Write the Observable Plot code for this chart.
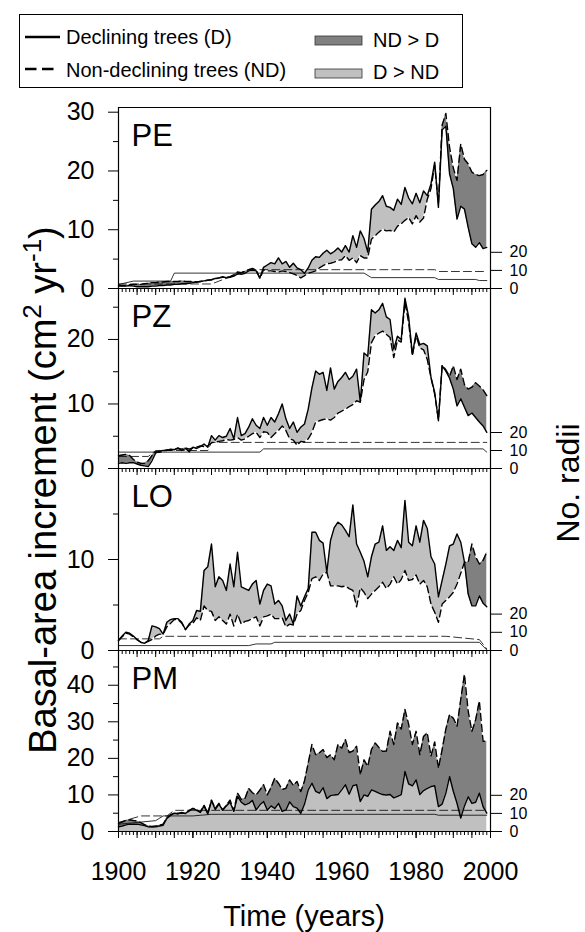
<!DOCTYPE html>
<html><head><meta charset="utf-8">
<script src="https://cdn.jsdelivr.net/npm/d3@7"></script>
<script src="https://cdn.jsdelivr.net/npm/@observablehq/plot@0.6"></script>
<style>
body{margin:0;background:#fff;}
#root{position:relative;width:585px;height:932px;font-family:"Liberation Sans",Arial,Helvetica,sans-serif;overflow:hidden;}
.panel{position:absolute;left:0;}
#overlay{position:absolute;left:0;top:0;}
</style></head><body><div id="root"></div>
<script>
// ---------- data (years 1900..1999) ----------
const years = d3.range(1900, 2000);
const xTickLabels = [1900, 1920, 1940, 1960, 1980, 2000];
const panelNames = ["PE", "PZ", "LO", "PM"];

const PE_D = [0.4,0.4,0.4,0.5,0.4,0.3,0.3,0.3,0.3,0.4,
 0.4,0.5,0.5,0.6,0.6,0.7,0.7,0.8,0.8,0.9,
 1.0,1.1,1.2,1.3,1.4,1.5,1.7,1.8,2.0,1.8,
 1.9,2.1,2.5,2.4,2.6,3.0,3.1,3.0,1.8,3.6,
 4.0,4.4,4.2,5.2,4.2,4.6,3.6,4.3,3.5,3.2,
 2.6,3.5,4.8,5.4,5.3,6.0,6.5,5.9,6.3,6.9,
 6.2,7.3,6.2,9.0,7.0,9.8,8.5,6.2,13.5,14.2,
 14.8,15.8,14.0,13.8,13.3,15.2,14.3,17.2,15.4,14.4,
 16.2,14.6,16.6,15.8,17.8,21.5,13.8,27.0,27.6,19.5,
 17.0,11.8,14.0,13.5,10.4,7.6,7.0,7.8,6.8,7.0];
const PE_ND = [0.5,0.5,0.5,0.6,0.7,0.7,0.7,0.8,0.9,1.0,
 1.0,1.1,1.1,1.2,1.2,1.2,1.2,1.3,1.2,1.2,
 1.2,1.1,1.2,1.3,1.4,1.5,1.6,1.8,1.9,1.9,
 2.0,2.3,2.8,2.7,2.9,3.2,3.4,3.2,1.7,3.2,
 3.0,3.0,2.9,2.8,3.0,2.9,2.7,2.5,2.2,1.8,
 2.2,2.6,2.8,3.0,3.5,3.9,4.2,4.3,4.5,4.8,
 4.9,5.6,4.8,5.2,4.4,5.6,5.2,5.2,8.4,9.0,
 9.6,10.1,9.8,9.9,9.6,10.6,11.0,11.6,12.1,11.0,
 12.4,11.3,12.0,15.2,17.0,21.0,14.5,27.8,29.8,24.0,
 20.5,18.4,24.6,22.0,21.2,19.8,19.4,19.2,19.4,20.1];

const PZ_D = [0.8,0.9,0.8,0.9,0.9,0.7,0.5,0.4,0.3,1.2,
 2.4,2.7,2.8,2.8,3.0,2.9,3.2,2.8,3.1,2.6,
 3.3,3.1,3.4,3.8,3.3,5.1,4.4,5.1,4.8,5.0,
 6.2,4.6,7.9,5.1,5.4,6.4,7.7,6.7,6.2,7.9,
 6.7,7.9,7.2,8.5,10.0,7.7,6.2,7.2,5.6,6.4,
 6.9,9.2,12.5,15.1,14.6,14.9,12.1,15.6,12.3,13.5,
 14.1,14.9,13.8,14.3,15.4,10.3,17.9,17.4,24.6,24.1,
 24.6,25.6,23.5,23.1,18.5,20.5,20.0,26.4,23.5,17.7,
 21.0,19.2,19.4,19.0,14.1,11.8,7.4,15.9,15.1,14.0,
 12.3,9.7,10.8,9.5,8.2,8.6,7.9,7.2,6.6,5.6];
const PZ_ND = [2.0,2.1,2.2,2.0,1.4,1.0,0.8,0.8,1.2,2.0,
 2.6,2.5,2.7,2.9,2.8,3.0,3.1,3.0,3.2,3.0,
 3.2,3.3,3.5,3.4,3.5,4.0,4.1,4.2,4.3,4.5,
 4.4,4.5,4.8,4.4,4.6,5.0,5.4,5.6,4.8,5.7,
 5.6,4.8,5.4,5.9,6.6,5.9,4.6,4.4,3.6,4.2,
 4.1,4.6,5.6,7.2,7.4,7.6,7.7,7.5,7.9,8.6,
 8.9,9.2,9.6,9.9,10.5,10.3,13.8,15.0,19.5,20.6,
 21.0,21.3,20.8,20.3,17.2,19.9,19.6,25.8,22.6,17.5,
 20.6,18.7,18.4,16.9,14.1,11.5,7.6,16.0,15.3,14.3,
 15.9,13.8,15.4,13.0,12.3,12.6,13.3,12.8,12.2,11.3];

const LO_D = [1.1,1.6,2.0,1.9,1.6,1.2,0.9,0.8,1.1,2.7,
 2.6,2.4,1.8,3.1,3.4,3.5,3.5,3.1,2.3,2.9,
 3.3,4.4,4.3,8.8,9.2,11.7,7.0,8.1,7.7,6.6,
 9.5,7.0,10.8,7.0,6.8,6.6,7.3,7.7,5.1,6.6,
 7.3,7.1,5.1,5.5,4.9,3.3,4.0,2.9,6.0,4.9,
 5.9,6.8,13.0,13.0,12.1,11.8,8.6,12.1,13.5,14.1,
 13.8,13.2,12.5,16.0,11.7,10.8,9.8,8.1,10.3,11.7,
 11.9,13.7,11.0,11.4,11.0,12.1,11.3,16.5,11.9,11.5,
 13.7,11.9,14.3,13.4,10.3,9.5,5.9,7.7,9.5,11.5,
 11.7,12.8,11.9,9.7,6.2,4.9,4.9,6.0,5.2,4.8];
const LO_ND = [1.1,1.5,1.9,1.8,1.5,1.2,0.9,0.8,1.0,1.2,
 1.6,1.8,1.8,2.6,3.0,3.4,3.4,3.0,2.3,2.8,
 3.0,3.6,3.3,4.9,4.4,4.3,3.3,3.7,3.3,2.9,
 4.0,2.7,4.0,2.9,3.2,3.3,3.5,3.7,2.7,3.7,
 3.8,4.0,3.5,3.5,3.6,2.6,2.9,2.8,4.0,4.4,
 5.5,6.4,7.9,8.1,7.7,8.4,8.6,7.1,7.1,7.1,
 7.0,7.1,6.8,6.6,4.8,6.9,6.4,5.7,6.2,6.6,
 7.0,7.5,6.8,7.3,8.1,7.3,7.8,8.8,7.7,7.8,
 8.3,7.3,7.7,7.0,5.1,4.2,3.1,5.1,5.5,5.9,
 6.4,7.3,8.5,9.7,9.7,11.7,10.3,9.5,9.9,10.8];

const PM_D = [1.3,1.5,1.8,2.0,2.0,2.0,1.8,1.6,1.3,1.2,
 1.3,1.5,1.7,3.6,4.4,5.0,4.8,5.2,4.9,5.8,
 6.3,5.8,5.2,7.0,4.8,8.4,6.0,7.5,5.8,7.0,
 8.0,5.5,9.6,8.0,7.3,7.7,8.5,5.9,7.3,8.2,
 5.9,7.0,6.3,7.7,5.5,5.9,8.1,6.8,6.4,5.0,
 7.5,11.4,13.2,11.0,10.5,12.0,9.0,9.8,10.0,10.1,
 11.4,12.8,10.2,12.5,12.8,8.2,10.0,9.6,11.4,11.0,
 10.5,10.1,10.0,10.1,9.2,9.6,10.1,16.4,13.0,12.5,
 14.1,10.1,11.2,11.8,12.3,12.5,6.8,7.5,10.5,15.0,
 11.0,7.7,3.7,7.0,9.5,7.7,8.0,10.5,6.8,5.0];
const PM_ND = [2.2,2.6,3.0,3.2,3.0,2.9,2.4,1.9,1.5,1.4,
 1.5,1.7,2.0,3.8,4.6,5.0,5.0,5.0,5.0,5.6,
 6.3,6.0,5.4,7.2,4.9,8.6,6.3,7.7,5.9,7.2,
 8.6,5.7,10.5,8.8,9.0,11.8,10.6,10.0,11.3,12.8,
 10.0,12.0,14.6,13.2,11.5,11.8,14.1,12.6,13.7,10.9,
 13.8,18.7,23.8,21.0,21.5,22.4,20.2,21.0,19.6,23.8,
 22.8,25.1,21.6,22.0,23.3,15.5,19.6,17.8,22.4,24.2,
 23.0,21.9,22.0,27.4,23.8,29.7,28.0,33.4,29.3,23.8,
 27.4,21.0,26.0,27.0,20.6,24.5,17.3,22.4,28.0,32.0,
 31.0,28.8,36.1,43.0,32.9,27.4,30.5,35.7,24.7,24.7];

// number of radii (year, count) at change points
const PE_radiiD  = [[1900,2.2],[1904,4.1],[1914,4.1],[1915,8.5],[1966,8.5],[1968,6.0],[1985,6.0],[1986,5.0],[1996,5.0],[1997,4.4],[1999,4.4]];
const PE_radiiND = [[1900,2.5],[1925,2.5],[1935,10.4],[1985,10.4],[1986,9.4],[1999,9.4]];
const PZ_radiiD  = [[1900,9.1],[1938,9.1],[1939,10.9],[1998,10.9],[1999,9.1]];
const PZ_radiiND = [[1900,6.7],[1908,6.7],[1910,10],[1924,10],[1925,14.5],[1999,14.5]];
const LO_radiiD  = [[1900,2.7],[1935,2.7],[1937,3.6],[1941,3.6],[1942,4.5],[1997,4.5],[1999,0.3]];
const LO_radiiND = [[1900,6.4],[1911,6.4],[1912,7.8],[1988,7.8],[1993,6.8],[1997,6.0],[1999,0.9]];
const PM_radiiD  = [[1900,4],[1910,6],[1912,8.6],[1920,8.6],[1925,9.5],[1985,9.5],[1986,9.0],[1999,9.0]];
const PM_radiiND = [[1900,5],[1906,8.6],[1913,8.6],[1915,11.7],[1999,11.7]];

const radiiTicks = [0, 10, 20];
const yMax = [30.8, 27.9, 20, 49.5];
const yMajor = [[0,10,20,30],[0,10,20],[0,10],[0,10,20,30,40]];
const yMinor = [[5,15,25],[5,15,25],[5,15],[5,15,25,35,45]];

// ---------- layout ----------
const DARK = "#808080", LIGHT = "#c0c0c0";
const series = [
  {D: PE_D, ND: PE_ND, rD: PE_radiiD, rND: PE_radiiND},
  {D: PZ_D, ND: PZ_ND, rD: PZ_radiiD, rND: PZ_radiiND},
  {D: LO_D, ND: LO_ND, rD: LO_radiiD, rND: LO_radiiND},
  {D: PM_D, ND: PM_ND, rD: PM_radiiD, rND: PM_radiiND}
];
const tops = [107, 288, 468, 650];
const heights = [181, 180, 182, 181];
const root = document.getElementById("root");

function withCrossings(D, ND) {
  const pts = [];
  for (let i = 0; i < years.length; i++) {
    pts.push({x: years[i], d: D[i], nd: ND[i]});
    if (i < years.length - 1) {
      const a = D[i] - ND[i], b = D[i+1] - ND[i+1];
      if (a * b < 0) {
        const t = a / (a - b);
        const v = D[i] + t * (D[i+1] - D[i]);
        pts.push({x: years[i] + t, d: v, nd: v});
      }
    }
  }
  return pts;
}

const font = "Liberation Sans, Arial, Helvetica, sans-serif";
series.forEach((s, idx) => {
  const ymax = yMax[idx];
  const k = ymax / 100;
  const isLast = idx === 3;
  const pts = withCrossings(s.D, s.ND);
  const marks = [];
  if (isLast) {
    marks.push(Plot.areaY(pts, {x: "x", y1: 0, y2: "d", fill: LIGHT}));
  } else {
    marks.push(Plot.areaY(pts, {x: "x", y1: "nd", y2: p => Math.max(p.d, p.nd), fill: LIGHT}));
  }
  marks.push(Plot.areaY(pts, {x: "x", y1: "d", y2: p => Math.max(p.d, p.nd), fill: DARK}));
  marks.push(Plot.line(s.rD, {x: r => r[0], y: r => r[1] * k, stroke: "black", strokeWidth: 0.8}));
  marks.push(Plot.line(s.rND, {x: r => r[0], y: r => r[1] * k, stroke: "black", strokeWidth: 0.8, strokeDasharray: "8,4"}));
  marks.push(Plot.line(years, {x: d => d, y: (d, i) => s.D[i], stroke: "black", strokeWidth: 1.4, strokeLinejoin: "round"}));
  marks.push(Plot.line(years, {x: d => d, y: (d, i) => s.ND[i], stroke: "black", strokeWidth: 1.4, strokeDasharray: "7,4", strokeLinejoin: "round"}));
  marks.push(Plot.ruleX([1900, 2000], {stroke: "black", strokeWidth: 1.2}));
  marks.push(Plot.ruleY([0], {stroke: "black", strokeWidth: 1.2}));
  if (idx === 0) marks.push(Plot.ruleY([ymax], {stroke: "black", strokeWidth: 1.2}));
  marks.push(Plot.axisY({anchor: "left", ticks: yMajor[idx], tickSize: 10, tickPadding: 14, fontSize: 25, label: null, tickFormat: d => String(d)}));
  marks.push(Plot.axisY({anchor: "left", ticks: yMinor[idx], tickSize: 5, label: null, tickFormat: () => ""}));
  marks.push(Plot.axisY({anchor: "right", ticks: radiiTicks.map(r => r * k), tickSize: 11, tickPadding: 8, fontSize: 16, label: null, tickFormat: v => String(Math.round(v / k))}));
  marks.push(Plot.axisX({anchor: "bottom", ticks: d3.range(1900, 2001), tickSize: 4, label: null, tickFormat: () => ""}));
  marks.push(Plot.axisX({anchor: "bottom", ticks: d3.range(1900, 2001, 5), tickSize: 7, label: null, tickFormat: () => ""}));
  if (isLast) {
    marks.push(Plot.axisX({anchor: "bottom", ticks: xTickLabels, tickSize: 7, tickPadding: 24, fontSize: 25, label: null, tickFormat: d => String(d)}));
  }
  marks.push(Plot.text([panelNames[idx]], {frameAnchor: "top-left", text: d => d, dx: 13, dy: 16, fontSize: 31, lineAnchor: "top", textAnchor: "start"}));

  const svg = Plot.plot({
    width: 585,
    height: heights[idx] + (isLast ? 60 : 0),
    marginLeft: 118, marginRight: 95, marginTop: 0, marginBottom: isLast ? 60 : 0,
    x: {domain: [1900, 2000], axis: null},
    y: {domain: [0, ymax], axis: null},
    style: {fontFamily: font, background: "transparent", overflow: "visible", color: "black"},
    marks
  });
  svg.classList.add("panel");
  svg.style.top = tops[idx] + "px";
  root.appendChild(svg);
});

// ---------- legend and titles ----------
const ov = d3.select(root).append("svg").attr("id", "overlay").attr("width", 585).attr("height", 932)
  .style("font-family", font);
ov.append("rect").attr("x", 19.5).attr("y", 14.5).attr("width", 443).attr("height", 73)
  .attr("fill", "white").attr("stroke", "black").attr("stroke-width", 1);
ov.append("line").attr("x1", 25).attr("x2", 60).attr("y1", 37).attr("y2", 37).attr("stroke", "black").attr("stroke-width", 2.5);
ov.append("line").attr("x1", 25).attr("x2", 55).attr("y1", 69).attr("y2", 69).attr("stroke", "black").attr("stroke-width", 2.5).attr("stroke-dasharray", "11.5,5.5");
ov.append("text").attr("x", 66).attr("y", 37).attr("dy", "0.35em").attr("font-size", 20).text("Declining trees (D)");
ov.append("text").attr("x", 66).attr("y", 70).attr("dy", "0.35em").attr("font-size", 20).text("Non-declining trees (ND)");
ov.append("rect").attr("x", 315).attr("y", 36).attr("width", 47).attr("height", 9).attr("fill", DARK).attr("stroke", "#333").attr("stroke-width", 0.8);
ov.append("rect").attr("x", 315).attr("y", 69).attr("width", 47).attr("height", 9).attr("fill", LIGHT).attr("stroke", "#333").attr("stroke-width", 0.8);
ov.append("text").attr("x", 373).attr("y", 40).attr("dy", "0.35em").attr("font-size", 20).text("ND > D");
ov.append("text").attr("x", 373).attr("y", 72).attr("dy", "0.35em").attr("font-size", 20).text("D > ND");

const yl = ov.append("text").attr("transform", "translate(56,490) rotate(-90)").attr("text-anchor", "middle").attr("font-size", 38);
yl.append("tspan").text("Basal-area increment (cm");
yl.append("tspan").attr("dy", -15).attr("font-size", 26).text("2");
yl.append("tspan").attr("dy", 15).text(" yr");
yl.append("tspan").attr("dy", -15).attr("font-size", 26).text("-1");
yl.append("tspan").attr("dy", 15).text(")");

ov.append("text").attr("transform", "translate(579,483) rotate(-90)").attr("text-anchor", "middle").attr("font-size", 32).text("No. radii");
ov.append("text").attr("x", 304).attr("y", 926).attr("text-anchor", "middle").attr("font-size", 29).text("Time (years)");
</script></body></html>
